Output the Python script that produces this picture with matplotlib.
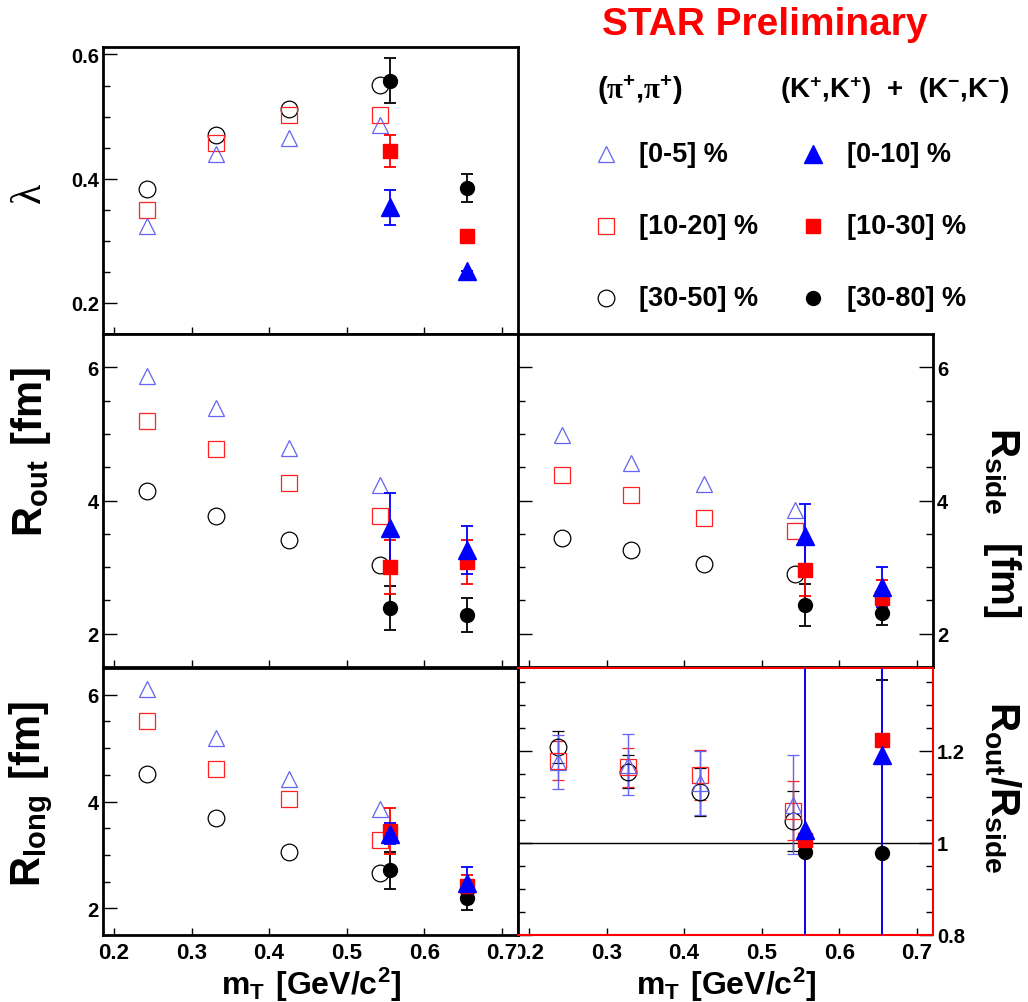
import matplotlib
matplotlib.use("Agg")
import matplotlib.pyplot as plt
from matplotlib.transforms import Bbox, TransformedBbox

plt.rcParams['font.family'] = ['Liberation Sans', 'DejaVu Sans']
plt.rcParams['font.weight'] = 'bold'
plt.rcParams['mathtext.fontset'] = 'custom'
plt.rcParams['mathtext.bf'] = 'Liberation Sans:bold'
plt.rcParams['mathtext.rm'] = 'Liberation Serif'
plt.rcParams['mathtext.default'] = 'bf'

# transverse mass bins [GeV/c^2]
mt_pi = [0.243, 0.332, 0.426, 0.543]
mt_pi_ratio = [0.238, 0.328, 0.421, 0.541]
mt_k = [0.556, 0.655]

# pion centralities: [0-5]%, [10-20]%, [30-50]%
pi_labels = ['[0-5] %', '[10-20] %', '[30-50] %']
# kaon centralities: [0-10]%, [10-30]%, [30-80]%
k_labels = ['[0-10] %', '[10-30] %', '[30-80] %']

# lambda
lam_pi_0_5 = [0.324, 0.440, 0.466, 0.487]
lam_pi_10_20 = [0.349, 0.458, 0.502, 0.503]
lam_pi_30_50 = [0.383, 0.471, 0.513, 0.551]
lam_k_0_10 = [0.354, 0.251]
lam_k_10_30 = [0.445, 0.307]
lam_k_30_80 = [0.558, 0.385]
lam_k_0_10_err = [0.028, 0.0]
lam_k_10_30_err = [0.026, 0.0]
lam_k_30_80_err = [0.036, 0.022]

# R_out [fm]
rout_pi_0_5 = [5.875, 5.39, 4.79, 4.24]
rout_pi_10_20 = [5.19, 4.77, 4.27, 3.77]
rout_pi_30_50 = [4.15, 3.77, 3.40, 3.03]
rout_k_0_10 = [3.58, 3.25]
rout_k_10_30 = [3.00, 3.08]
rout_k_30_80 = [2.39, 2.28]
rout_k_0_10_err = [0.54, 0.36]
rout_k_10_30_err = [0.40, 0.33]
rout_k_30_80_err = [0.33, 0.26]

# R_side [fm]
rside_pi_0_5 = [4.98, 4.57, 4.25, 3.86]
rside_pi_10_20 = [4.39, 4.08, 3.73, 3.54]
rside_pi_30_50 = [3.44, 3.26, 3.05, 2.89]
rside_k_0_10 = [3.47, 2.70]
rside_k_10_30 = [2.96, 2.54]
rside_k_30_80 = [2.43, 2.31]
rside_k_0_10_err = [0.47, 0.30]
rside_k_10_30_err = [0.39, 0.27]
rside_k_30_80_err = [0.31, 0.18]

# R_long [fm]
rlong_pi_0_5 = [6.11, 5.18, 4.42, 3.86]
rlong_pi_10_20 = [5.51, 4.60, 4.05, 3.27]
rlong_pi_30_50 = [4.51, 3.69, 3.05, 2.67]
rlong_k_0_10 = [3.40, 2.47]
rlong_k_10_30 = [3.44, 2.42]
rlong_k_30_80 = [2.71, 2.20]
rlong_k_0_10_err = [0.20, 0.30]
rlong_k_10_30_err = [0.43, 0.20]
rlong_k_30_80_err = [0.35, 0.23]

# R_out / R_side
ratio_pi_0_5 = [1.176, 1.170, 1.130, 1.083]
ratio_pi_10_20 = [1.179, 1.164, 1.147, 1.070]
ratio_pi_30_50 = [1.209, 1.155, 1.110, 1.047]
ratio_pi_0_5_err = [0.059, 0.066, 0.070, 0.107]
ratio_pi_10_20_err = [0.042, 0.043, 0.054, 0.064]
ratio_pi_30_50_err = [0.035, 0.036, 0.052, 0.065]
ratio_k_0_10 = [1.028, 1.192]
ratio_k_10_30 = [1.006, 1.223]
ratio_k_30_80 = [0.980, 0.978]
ratio_k_0_10_err = [0.60, 0.60]
ratio_k_10_30_err = [0.45, 0.60]
ratio_k_30_80_err = [0.45, 0.375]

PI_STYLE = [dict(marker='^', color='#6464f0', ms=12),
            dict(marker='s', color='#ff2020', ms=11),
            dict(marker='o', color='black', ms=12)]
K_STYLE = [dict(marker='^', color='#0000ff', ms=13.5),
           dict(marker='s', color='#ff0000', ms=10.5),
           dict(marker='o', color='black', ms=10)]

W, H = 1028, 1003
fig = plt.figure(figsize=(W / 100, H / 100), dpi=100)


def rect(x0, y0, x1, y1):
    return [x0 / W, 1 - y1 / H, (x1 - x0) / W, (y1 - y0) / H]


def plot_pions(ax, x, series, errs=None):
    for i in (2, 1, 0):
        st = PI_STYLE[i]
        ax.errorbar(x, series[i], yerr=None if errs is None else errs[i],
                    fmt=st['marker'], ms=st['ms'], mfc='none', mec=st['color'],
                    mew=0.9, ecolor=st['color'], elinewidth=1.0, capsize=4,
                    capthick=1.0, zorder=3)


def plot_kaons(ax, x, series, errs):
    for i in (2, 1, 0):
        st = K_STYLE[i]
        ax.errorbar(x, series[i], yerr=errs[i], fmt=st['marker'], ms=st['ms'],
                    color=st['color'], mec=st['color'], elinewidth=1.3,
                    capsize=4, capthick=1.3, zorder=4)


def style(ax, ylim, major, minor, side='left', xlabels=False):
    ax.set_xlim(0.1858, 0.721)
    ax.set_xticks([0.2, 0.3, 0.4, 0.5, 0.6, 0.7])
    ax.set_xticklabels(['%g' % v for v in ax.get_xticks()])
    ax.set_ylim(*ylim)
    ax.set_yticks(major)
    ax.set_yticks(minor, minor=True)
    ax.set_yticklabels(['%g' % v for v in major])
    ax.tick_params(axis='x', direction='in', length=5, width=1, top=False,
                   labelbottom=xlabels, labelsize=16, pad=5)
    both = side == 'right'
    ax.tick_params(axis='y', which='major', direction='in', length=10, width=1,
                   left=True, right=both, labelleft=not both, labelright=both,
                   labelsize=14.5, pad=3)
    ax.tick_params(axis='y', which='minor', direction='in', length=5, width=1,
                   left=True, right=both)
    for sp in ax.spines.values():
        sp.set_linewidth(2)


# lambda
ax_lam = fig.add_axes(rect(103, 48, 518, 335))
plot_pions(ax_lam, mt_pi, [lam_pi_0_5, lam_pi_10_20, lam_pi_30_50])
plot_kaons(ax_lam, mt_k, [lam_k_0_10, lam_k_10_30, lam_k_30_80],
           [lam_k_0_10_err, lam_k_10_30_err, lam_k_30_80_err])
style(ax_lam, (0.15, 0.612), [0.2, 0.4, 0.6],
      [0.25, 0.3, 0.35, 0.45, 0.5, 0.55])

# R_out
ax_out = fig.add_axes(rect(103, 335, 518, 668))
plot_pions(ax_out, mt_pi, [rout_pi_0_5, rout_pi_10_20, rout_pi_30_50])
plot_kaons(ax_out, mt_k, [rout_k_0_10, rout_k_10_30, rout_k_30_80],
           [rout_k_0_10_err, rout_k_10_30_err, rout_k_30_80_err])
style(ax_out, (1.5, 6.5), [2, 4, 6], [2.5, 3, 3.5, 4.5, 5, 5.5])

# R_side
ax_side = fig.add_axes(rect(518, 335, 933, 668))
plot_pions(ax_side, mt_pi, [rside_pi_0_5, rside_pi_10_20, rside_pi_30_50])
plot_kaons(ax_side, mt_k, [rside_k_0_10, rside_k_10_30, rside_k_30_80],
           [rside_k_0_10_err, rside_k_10_30_err, rside_k_30_80_err])
style(ax_side, (1.5, 6.5), [2, 4, 6], [2.5, 3, 3.5, 4.5, 5, 5.5], side='right')

# R_long
ax_long = fig.add_axes(rect(103, 669, 518, 936))
plot_pions(ax_long, mt_pi, [rlong_pi_0_5, rlong_pi_10_20, rlong_pi_30_50])
plot_kaons(ax_long, mt_k, [rlong_k_0_10, rlong_k_10_30, rlong_k_30_80],
           [rlong_k_0_10_err, rlong_k_10_30_err, rlong_k_30_80_err])
style(ax_long, (1.5, 6.5), [2, 4, 6], [2.5, 3, 3.5, 4.5, 5, 5.5], xlabels=True)

# R_out / R_side
ax_ratio = fig.add_axes(rect(518, 669, 933, 936))
ax_ratio.axhline(1.0, color='black', lw=1, zorder=1)
plot_pions(ax_ratio, mt_pi_ratio, [ratio_pi_0_5, ratio_pi_10_20, ratio_pi_30_50],
           [ratio_pi_0_5_err, ratio_pi_10_20_err, ratio_pi_30_50_err])
plot_kaons(ax_ratio, mt_k, [ratio_k_0_10, ratio_k_10_30, ratio_k_30_80],
           [ratio_k_0_10_err, ratio_k_10_30_err, ratio_k_30_80_err])
style(ax_ratio, (0.8, 1.38), [0.8, 1.0, 1.2],
      [0.85, 0.9, 0.95, 1.05, 1.1, 1.15, 1.25, 1.3, 1.35], side='right',
      xlabels=True)
for name in ('top', 'right', 'bottom'):
    ax_ratio.spines[name].set_color('red')
    ax_ratio.spines[name].set_linewidth(1.5)

# right-pad tick labels are cut at the pad border
pad_clip = TransformedBbox(Bbox.from_extents(518 / W, 0, 1, 1), fig.transFigure)
for tick in ax_ratio.xaxis.get_major_ticks():
    tick.label1.set_clip_box(pad_clip)
    tick.label1.set_clip_on(True)

# titles and legend, placed in pixel coordinates
key = fig.add_axes([0, 0, 1, 1], zorder=5)
key.set_xlim(0, W)
key.set_ylim(H, 0)
key.axis('off')
key.patch.set_visible(False)

key.text(30, 193, 'λ', rotation=90, fontsize=30, family='Liberation Serif',
         weight='normal', ha='center', va='center')
key.text(31, 452, r'$R_{out}\ [fm]$', rotation=90, fontsize=30,
         ha='center', va='center')
key.text(31, 794, r'$R_{long}\ [fm]$', rotation=90, fontsize=30,
         ha='center', va='center')
key.text(1002, 522, r'$R_{side}\ \ [fm]$', rotation=270, fontsize=29,
         ha='center', va='center')
key.text(1002, 787, r'$R_{out}/R_{side}$', rotation=270, fontsize=29,
         ha='center', va='center')
for xc in (311, 726):
    key.text(xc, 985, r'$m_{T}\ [GeV/c^{2}]$', fontsize=23,
             ha='center', va='center')

key.text(765, 25, 'STAR Preliminary', color='#ff0000', fontsize=28,
         ha='center', va='center')
key.text(597, 90, r'$(\mathrm{\pi}^{+}{,}\mathrm{\pi}^{+})$', fontsize=21,
         ha='left', va='center')
key.text(780, 90, r'$(K^{+}{,}K^{+})\ +\ (K^{-}{,}K^{-})$', fontsize=20,
         ha='left', va='center')

rows = [155, 227, 299]
for st, lab, yr in zip(PI_STYLE, pi_labels, rows):
    key.plot(606, yr, marker=st['marker'], ms=st['ms'], mfc='none',
             mec=st['color'], mew=0.9, ls='none')
    key.text(639, yr, lab, fontsize=19.5, ha='left', va='center')
for st, lab, yr in zip(K_STYLE, k_labels, rows):
    key.plot(813, yr, marker=st['marker'], ms=st['ms'], color=st['color'],
             ls='none')
    key.text(847, yr, lab, fontsize=19.5, ha='left', va='center')

fig.savefig('out.png', dpi=100, facecolor='white')
